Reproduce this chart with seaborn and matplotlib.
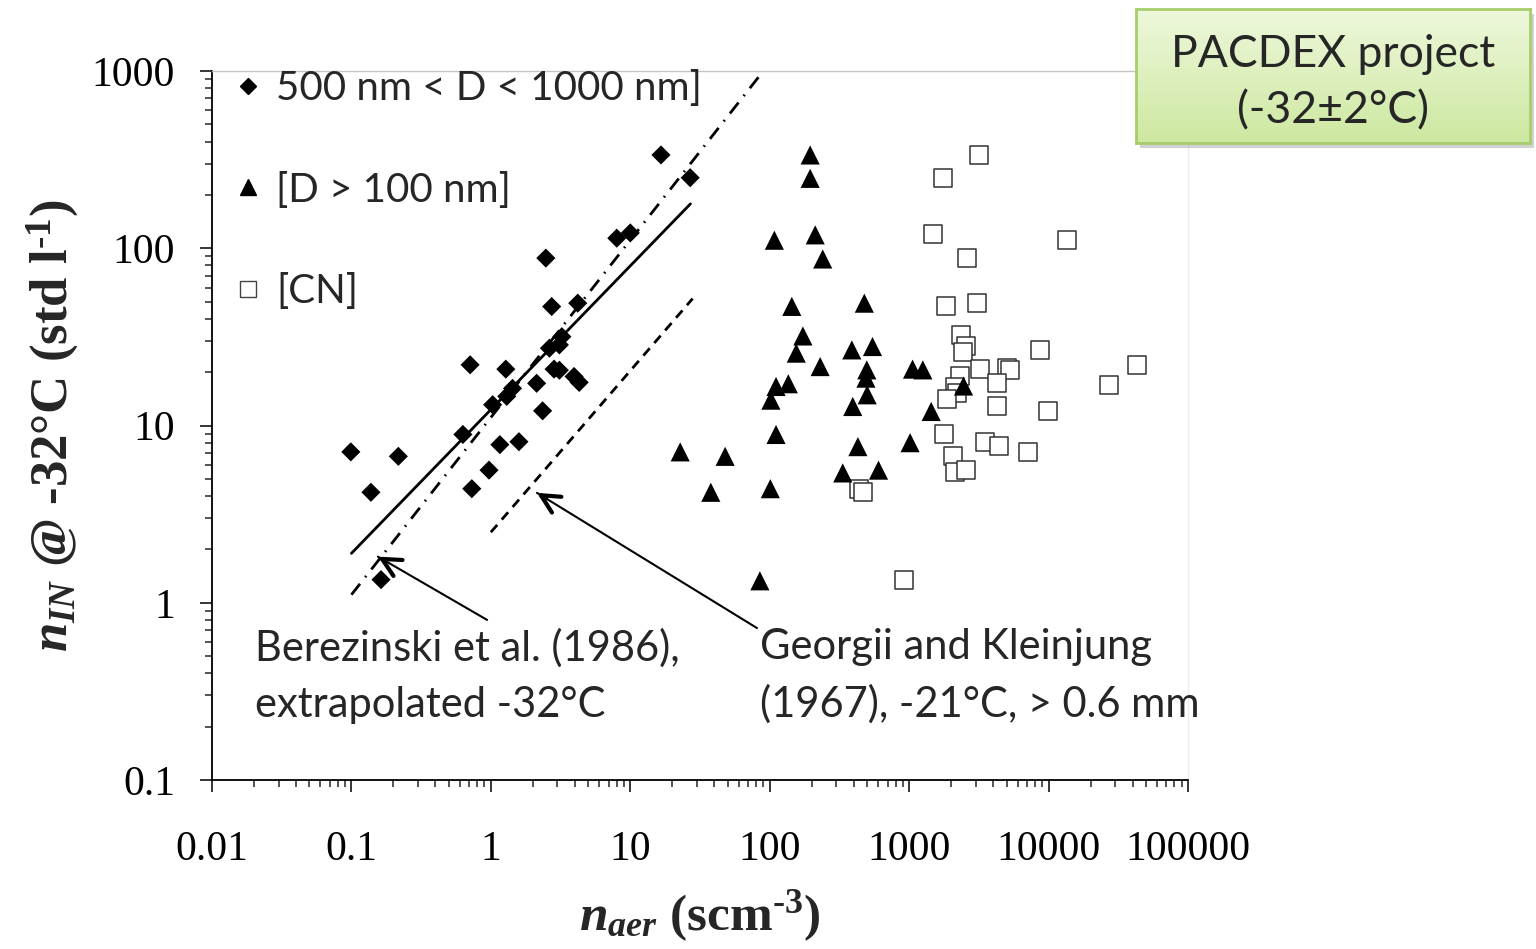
import numpy as np
import pandas as pd
import matplotlib.pyplot as plt
import seaborn as sns
from matplotlib.lines import Line2D
from matplotlib.patches import Rectangle
from matplotlib.colors import LinearSegmentedColormap
from matplotlib.ticker import FuncFormatter, LogLocator, NullFormatter

# ---- data ----
# 500 nm < D < 1000 nm (diamonds)
d500_x = [0.099, 0.217, 0.138, 0.163, 0.71, 1.28, 0.63, 1.03, 1.30, 1.43, 1.16, 1.59,
          0.97, 0.73, 2.35, 2.13, 2.84, 3.1, 4.3, 3.95, 2.63, 3.23, 3.1, 2.73, 4.2,
          16.6, 26.9, 8.0, 10.0, 2.48]
d500_y = [7.1, 6.7, 4.2, 1.35, 22, 20.8, 8.9, 13.1, 14.6, 16.2, 7.8, 8.1,
          5.6, 4.4, 12.1, 17.3, 20.8, 20.5, 17.5, 18.9, 27.3, 31.7, 28.5, 46.9, 49,
          336, 250, 114, 122, 88]

# D > 100 nm (triangles)
d100_x = [195, 195, 108, 212, 240, 144, 477, 173, 155, 230, 388, 546, 497, 490, 500,
          394, 111, 136, 102, 111, 1058, 1254, 1439, 2455, 1016, 429, 334, 603,
          22.8, 47.9, 37.8, 101, 85]
d100_y = [336, 248, 111, 119, 87, 47, 49, 32, 25.6, 21.5, 26.7, 27.9, 20.6, 18.5, 14.9,
          12.8, 16.6, 17.2, 13.9, 8.9, 20.8, 20.6, 12.0, 16.7, 8.0, 7.6, 5.4, 5.6,
          7.1, 6.7, 4.2, 4.4, 1.33]

# CN (open squares)
cn_x = [3162, 1762, 1493, 13520, 2594, 1842, 3090, 2350, 2564, 2430, 8610, 43400,
        27200, 3230, 5020, 5300, 4255, 2323, 2137, 2220, 1862, 4255, 9880, 1783,
        3508, 4446, 7115, 2048, 2137, 2564, 920, 438, 470]
cn_y = [336, 250, 120, 112, 88, 47, 49.4, 32.4, 28.1, 26.1, 26.7, 22,
        16.9, 20.8, 21, 20.6, 17.3, 18.9, 16.4, 15.2, 14.1, 12.9, 12.1, 8.9,
        8.1, 7.7, 7.1, 6.7, 5.45, 5.6, 1.35, 4.4, 4.2]

# reference lines
fit_x = [0.1, 27]
fit_y = [1.9, 178]
berez_x = [0.1, 90]
berez_y = [1.11, 1000]
georgii_x = [1.0, 28]
georgii_y = [2.5, 52]

x_ticks = [0.01, 0.1, 1, 10, 100, 1000, 10000, 100000]
y_ticks = [0.1, 1, 10, 100, 1000]

df = pd.concat([
    pd.DataFrame({'x': d500_x, 'y': d500_y, 'set': '500 nm < D < 1000 nm]'}),
    pd.DataFrame({'x': d100_x, 'y': d100_y, 'set': '[D > 100 nm]'}),
    pd.DataFrame({'x': cn_x, 'y': cn_y, 'set': '[CN]'}),
])

sns.set_style("ticks")
plt.rcParams['font.family'] = ['Liberation Serif', 'DejaVu Sans']
plt.rcParams['mathtext.fontset'] = 'custom'
plt.rcParams['mathtext.rm'] = 'Liberation Serif:bold'
plt.rcParams['mathtext.it'] = 'Liberation Serif:italic:bold'
plt.rcParams['mathtext.bf'] = 'Liberation Serif:bold'

fig = plt.figure(figsize=(15.36, 9.49), dpi=100)
ax = fig.add_axes([212 / 1536, 1 - 780 / 949, 976 / 1536, 709 / 949])
ax.set_facecolor('none')

ax.set_xscale('log')
ax.set_yscale('log')

sns.scatterplot(data=df[df['set'] == '[CN]'], x='x', y='y', marker='s', s=180,
                facecolor='white', edgecolor='#333333', linewidth=1.1, ax=ax, zorder=3)
sns.scatterplot(data=df[df['set'] == '[D > 100 nm]'], x='x', y='y', marker='^', s=190,
                color='black', edgecolor='none', ax=ax, zorder=4)
sns.scatterplot(data=df[df['set'] == '500 nm < D < 1000 nm]'], x='x', y='y', marker='D', s=95,
                color='black', edgecolor='none', ax=ax, zorder=5)

ax.plot(fit_x, fit_y, color='black', lw=2.0, solid_capstyle='round', zorder=2)
ax.plot(berez_x, berez_y, color='black', lw=2.0, ls=(0, (5, 3, 0.6, 3)), zorder=2)
ax.plot(georgii_x, georgii_y, color='black', lw=2.0, ls=(0, (3.5, 2.5)), zorder=2)

ax.set_xlim(0.01, 100000)
ax.set_ylim(0.1, 1000)
ax.set_xticks(x_ticks)
ax.set_yticks(y_ticks)
fmt = FuncFormatter(lambda v, p: '{:g}'.format(v))
ax.xaxis.set_major_formatter(fmt)
ax.yaxis.set_major_formatter(fmt)
ax.xaxis.set_minor_locator(LogLocator(base=10, subs=np.arange(2, 10), numticks=20))
ax.yaxis.set_minor_locator(LogLocator(base=10, subs=np.arange(2, 10), numticks=20))
ax.xaxis.set_minor_formatter(NullFormatter())
ax.yaxis.set_minor_formatter(NullFormatter())
ax.tick_params(which='major', direction='out', length=8.5, width=1.1, labelsize=30,
               colors='black')
ax.tick_params(which='minor', direction='out', length=5, width=1.1)
ax.tick_params(axis='x', which='major', pad=28)
ax.tick_params(axis='y', which='major', pad=18)

for side in ['left', 'bottom']:
    ax.spines[side].set_color('black')
    ax.spines[side].set_linewidth(1.3)
ax.spines['top'].set_color('#c4c4c4')
ax.spines['top'].set_linewidth(1)
ax.spines['right'].set_color('#ececec')
ax.spines['right'].set_linewidth(1)

ax.set_xlabel(r'$n_{aer}$ (scm$^{\text{-3}}$)', fontsize=37, fontweight='bold', labelpad=14)
ax.set_ylabel(r'$n_{IN}\ \mathit{@}$ -32°C (std l$^{\text{-1}}$)', fontsize=38,
              fontweight='bold', labelpad=8)

handles = [
    Line2D([], [], marker='D', ls='', color='black', markersize=8),
    Line2D([], [], marker='^', ls='', color='black', markersize=11),
    Line2D([], [], marker='s', ls='', markerfacecolor='white', markeredgecolor='#444444',
           markeredgewidth=1, markersize=11),
]
labels = ['500 nm < D < 1000 nm]', '[D > 100 nm]', '[CN]']
ax.legend(handles, labels, loc='upper left', bbox_to_anchor=(0.0, 1.024), frameon=False,
          borderaxespad=0, handlelength=1.0, handletextpad=0.2, labelspacing=1.6,
          prop={'family': 'Lato', 'size': 29})

arrow_thin = dict(arrowstyle='-', lw=1.5, color='black', shrinkA=0, shrinkB=0)
arrow_head = dict(arrowstyle='->,head_length=0.6,head_width=0.3', lw=3, color='black',
                  shrinkA=0, shrinkB=0, mutation_scale=22)
ax.annotate('', xy=(0.155, 1.82), xytext=(0.94, 0.80), arrowprops=arrow_thin)
ax.annotate('', xy=(0.155, 1.82), xytext=(0.176, 1.72), arrowprops=arrow_head)
ax.annotate('', xy=(2.14, 4.17), xytext=(81, 0.72), arrowprops=arrow_thin)
ax.annotate('', xy=(2.14, 4.17), xytext=(2.48, 3.89), arrowprops=arrow_head)

ax.text(0.044, 0.147, 'Berezinski et al. (1986),\nextrapolated -32°C', transform=ax.transAxes,
        ha='left', va='center', fontsize=30, family='Lato', linespacing=1.59)
ax.text(0.561, 0.147, 'Georgii and Kleinjung\n(1967), -21°C, > 0.6 mm', transform=ax.transAxes,
        ha='left', va='center', fontsize=30, family='Lato', linespacing=1.59)

# project label box with shadow
bx, by, bw, bh = 1136 / 1536, 1 - 143 / 949, 394 / 1536, 134 / 949
fig.patches.append(Rectangle((bx + 4 / 1536, by - 5 / 949), bw, bh, transform=fig.transFigure,
                             facecolor='#9a9a9a', alpha=0.45, edgecolor='none', zorder=4))
box = fig.add_axes([bx, by, bw, bh])
box.set_zorder(6)
cmap = LinearSegmentedColormap.from_list('pac', ['#eef8dc', '#cde8a0'])
box.imshow(np.linspace(0, 1, 256).reshape(-1, 1), aspect='auto', cmap=cmap,
           extent=[0, 1, 0, 1], origin='upper')
box.set_xticks([])
box.set_yticks([])
for sp in box.spines.values():
    sp.set_color('#a8cd6c')
    sp.set_linewidth(2)
box.text(0.5, 0.45, 'PACDEX project\n(-32±2°C)', ha='center', va='center', fontsize=32,
         family='Lato', linespacing=1.45, transform=box.transAxes)

fig.savefig('out.png', dpi=100)
